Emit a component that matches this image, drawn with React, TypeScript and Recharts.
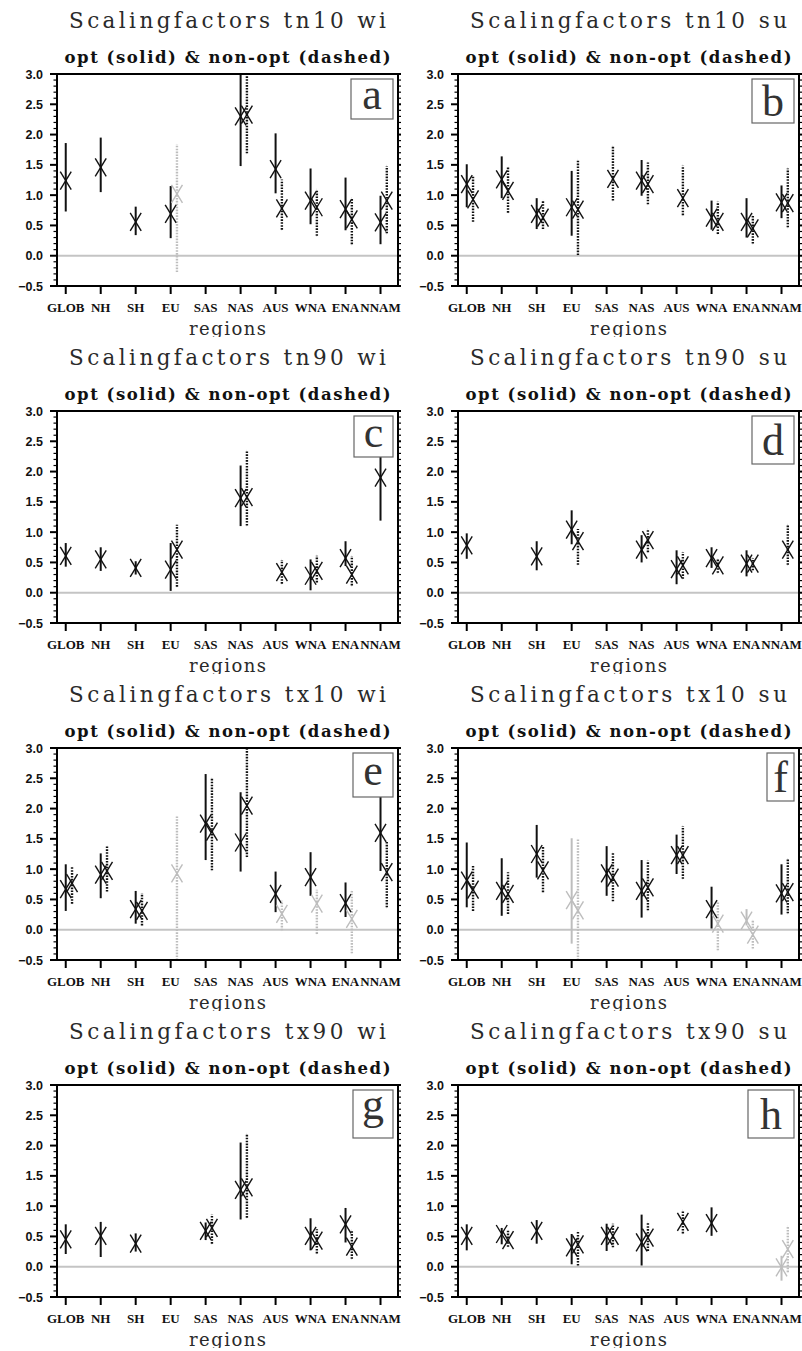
import React from "react";
import {
  ComposedChart,
  Scatter,
  ErrorBar,
  XAxis,
  YAxis,
  ReferenceLine,
} from "recharts";

// [best estimate, lower, upper]; a trailing 1 marks an inconsistent (grey) estimate
// upper ends that run off the top of the frame are read as 3.0
type Est = [number, number, number] | [number, number, number, number] | null;

const REGIONS = ["GLOB", "NH", "SH", "EU", "SAS", "NAS", "AUS", "WNA", "ENA", "NNAM"];
const Y_LABELS = [-0.5, 0, 0.5, 1, 1.5, 2, 2.5, 3];
const X_TICKS = [0, 1, 2, 3, 4, 5, 6, 7, 8, 9];

const TN10_WI_OPT: Est[] = [
  [1.24, 0.73, 1.86], [1.46, 1.05, 1.95], [0.56, 0.34, 0.81], [0.69, 0.29, 1.15], null,
  [2.3, 1.48, 3.0], [1.43, 1.03, 2.02], [0.91, 0.52, 1.44], [0.77, 0.42, 1.29], [0.55, 0.19, 0.99],
];
const TN10_WI_NON: Est[] = [
  null, null, null, [1.02, -0.27, 1.84, 1], null,
  [2.33, 1.69, 3.0], [0.78, 0.43, 1.26], [0.8, 0.33, 1.09], [0.6, 0.19, 0.95], [0.91, 0.37, 1.48],
];

const TN10_SU_OPT: Est[] = [
  [1.18, 0.8, 1.51], [1.26, 0.95, 1.64], [0.69, 0.44, 0.95], [0.8, 0.33, 1.4], null,
  [1.24, 0.99, 1.58], null, [0.63, 0.43, 0.91], [0.56, 0.3, 0.95], [0.88, 0.62, 1.16],
];
const TN10_SU_NON: Est[] = [
  [0.93, 0.56, 1.32], [1.07, 0.71, 1.46], [0.63, 0.44, 0.91], [0.76, 0.01, 1.58], [1.27, 0.91, 1.81],
  [1.18, 0.85, 1.54], [0.95, 0.67, 1.49], [0.56, 0.36, 0.89], [0.45, 0.2, 0.67], [0.87, 0.47, 1.44],
];

const TN90_WI_OPT: Est[] = [
  [0.61, 0.43, 0.82], [0.55, 0.36, 0.75], [0.41, 0.3, 0.52], [0.38, 0.03, 0.82], null,
  [1.56, 1.1, 2.1], null, [0.28, 0.04, 0.55], [0.57, 0.44, 0.85], [1.9, 1.19, 2.25],
];
const TN90_WI_NON: Est[] = [
  null, null, null, [0.71, 0.1, 1.12], null,
  [1.58, 1.11, 2.34], [0.34, 0.15, 0.54], [0.36, 0.17, 0.61], [0.3, 0.12, 0.6], null,
];

const TN90_SU_OPT: Est[] = [
  [0.78, 0.56, 0.98], null, [0.6, 0.37, 0.85], [1.04, 0.8, 1.36], null,
  [0.71, 0.5, 0.95], [0.39, 0.14, 0.7], [0.57, 0.41, 0.75], [0.48, 0.27, 0.7], null,
];
const TN90_SU_NON: Est[] = [
  null, null, null, [0.85, 0.46, 1.05], null,
  [0.87, 0.67, 1.05], [0.45, 0.23, 0.67], [0.45, 0.33, 0.55], [0.48, 0.37, 0.57], [0.71, 0.46, 1.12],
];

const TX10_WI_OPT: Est[] = [
  [0.67, 0.31, 1.08], [0.91, 0.52, 1.26], [0.34, 0.1, 0.64], null, [1.75, 1.15, 2.57],
  [1.44, 0.96, 2.27], [0.59, 0.29, 0.96], [0.87, 0.56, 1.28], [0.44, 0.21, 0.78], [1.6, 0.97, 2.25],
];
const TX10_WI_NON: Est[] = [
  [0.77, 0.43, 1.03], [0.97, 0.63, 1.38], [0.31, 0.07, 0.6], [0.93, -0.5, 1.87, 1], [1.62, 0.98, 2.5],
  [2.05, 1.2, 3.0], [0.26, -0.01, 0.48, 1], [0.43, -0.07, 0.66, 1], [0.18, -0.39, 0.64, 1], [0.95, 0.37, 1.46],
];

const TX10_SU_OPT: Est[] = [
  [0.81, 0.37, 1.44], [0.64, 0.23, 1.18], [1.25, 0.86, 1.73], [0.49, -0.23, 1.51, 1], [0.93, 0.56, 1.38],
  [0.64, 0.2, 1.15], [1.23, 0.92, 1.57], [0.34, 0.02, 0.71], [0.15, 0.07, 0.34, 1], [0.6, 0.25, 1.08],
];
const TX10_SU_NON: Est[] = [
  [0.66, 0.31, 1.05], [0.59, 0.26, 0.95], [0.98, 0.62, 1.37], [0.32, -0.5, 1.51, 1], [0.86, 0.47, 1.27],
  [0.7, 0.32, 1.14], [1.23, 0.84, 1.71], [0.1, -0.34, 0.45, 1], [-0.08, -0.31, 0.15, 1], [0.62, 0.27, 1.16],
];

const TX90_WI_OPT: Est[] = [
  [0.45, 0.21, 0.7], [0.51, 0.16, 0.74], [0.38, 0.25, 0.55], null, [0.59, 0.44, 0.73],
  [1.27, 0.78, 2.05], null, [0.51, 0.27, 0.8], [0.7, 0.4, 0.97], null,
];
const TX90_WI_NON: Est[] = [
  null, null, null, null, [0.64, 0.38, 0.86],
  [1.31, 0.81, 2.19], null, [0.43, 0.22, 0.62], [0.33, 0.13, 0.6], null,
];

const TX90_SU_OPT: Est[] = [
  [0.51, 0.27, 0.7], [0.54, 0.37, 0.64], [0.59, 0.38, 0.77], [0.32, 0.04, 0.54], [0.51, 0.26, 0.71],
  [0.4, 0.02, 0.86], null, [0.72, 0.51, 0.98], null, [-0.01, -0.23, 0.18, 1],
];
const TX90_SU_NON: Est[] = [
  null, [0.44, 0.33, 0.6], null, [0.37, 0.02, 0.59], [0.51, 0.32, 0.71],
  [0.48, 0.26, 0.73], [0.74, 0.55, 0.93], null, null, [0.29, -0.09, 0.67, 1],
];

const PANELS = [
  { letter: "a", title: "Scalingfactors tn10 wi", opt: TN10_WI_OPT, non: TN10_WI_NON },
  { letter: "b", title: "Scalingfactors tn10 su", opt: TN10_SU_OPT, non: TN10_SU_NON },
  { letter: "c", title: "Scalingfactors tn90 wi", opt: TN90_WI_OPT, non: TN90_WI_NON },
  { letter: "d", title: "Scalingfactors tn90 su", opt: TN90_SU_OPT, non: TN90_SU_NON },
  { letter: "e", title: "Scalingfactors tx10 wi", opt: TX10_WI_OPT, non: TX10_WI_NON },
  { letter: "f", title: "Scalingfactors tx10 su", opt: TX10_SU_OPT, non: TX10_SU_NON },
  { letter: "g", title: "Scalingfactors tx90 wi", opt: TX90_WI_OPT, non: TX90_WI_NON },
  { letter: "h", title: "Scalingfactors tx90 su", opt: TX90_SU_OPT, non: TX90_SU_NON },
];

// letter box size [w, h] and baseline offset from box centre
const LETTER_BOX: Record<string, [number, number, number]> = {
  a: [42, 40, 10], b: [42, 44, 15], c: [39, 41, 10], d: [42, 48, 15],
  e: [40, 44, 10], f: [27, 48, 15], g: [40, 48, 5], h: [46, 48, 15],
};

const W = 401;
const H = 337;
const PLOT_L = 57;
const PLOT_R = 398;
const PLOT_T = 74;
const MID_X = (PLOT_L + PLOT_R) / 2;
const INK = "#111";
const GREY = "#bdbdbd";
const DASH = "1.6 1.3";
const NON_SHIFT = 0.18;
const SERIF = "'DejaVu Serif', 'Liberation Serif', serif";

// every 0.1 between -0.5 and 3.0 (minor ticks), labels only on the 0.5 steps
const Y_TICKS = Array.from({ length: 36 }, (_, i) => (i - 5) / 10);

const fmt = (v: number) => (v < 0 ? "\u2212" : "") + Math.abs(v).toFixed(1);
const isMajor = (v: number) => Y_LABELS.some((l) => Math.abs(l - v) < 1e-6);

function toPoints(list: Est[], shift: number, grey: boolean) {
  const out: { x: number; y: number; err: [number, number] }[] = [];
  list.forEach((e, i) => {
    if (!e) return;
    if ((e[3] === 1) !== grey) return;
    out.push({ x: i + shift, y: e[0], err: [e[0] - e[1], e[2] - e[0]] });
  });
  return out;
}

const markShape = (color: string) => (p: any) => {
  if (p.cx == null || p.cy == null) return <g />;
  const { cx, cy } = p;
  return (
    <g stroke={color} strokeWidth={1.4} fill="none">
      <line x1={cx - 5.5} y1={cy - 9} x2={cx + 5.5} y2={cy + 9} />
      <line x1={cx - 5.5} y1={cy + 9} x2={cx + 5.5} y2={cy - 9} />
    </g>
  );
};

const LeftTick = (p: any) => {
  const v = p.payload.value;
  const major = isMajor(v);
  return (
    <g>
      <line x1={p.x} x2={p.x - (major ? 7 : 3.5)} y1={p.y} y2={p.y} stroke="#000" strokeWidth={major ? 2 : 1.2} />
      {major && (
        <text
          x={p.x - 14}
          y={p.y}
          dy="0.36em"
          textAnchor="end"
          fontFamily="'Liberation Sans', Arial, sans-serif"
          fontWeight="bold"
          fontSize={12.5}
          fill="#111"
        >
          {fmt(v)}
        </text>
      )}
    </g>
  );
};

const RightTick = (p: any) => {
  const major = isMajor(p.payload.value);
  return (
    <line x1={p.x} x2={p.x + 3} y1={p.y} y2={p.y} stroke="#000" strokeWidth={major ? 2 : 1.2} />
  );
};

const BottomTick = (p: any) => (
  <text
    x={p.x}
    y={p.y}
    dy="0.36em"
    textAnchor="middle"
    fontFamily="'Liberation Serif', 'Times New Roman', serif"
    fontWeight="bold"
    fontSize={13}
    fill="#111"
  >
    {REGIONS[p.payload.value]}
  </text>
);

function Panel({ panel, col, row }: { panel: (typeof PANELS)[number]; col: number; row: number }) {
  const series = [
    { data: toPoints(panel.opt, 0, true), color: GREY, dash: undefined },
    { data: toPoints(panel.non, NON_SHIFT, true), color: GREY, dash: DASH },
    { data: toPoints(panel.opt, 0, false), color: INK, dash: undefined },
    { data: toPoints(panel.non, NON_SHIFT, false), color: INK, dash: DASH },
  ];
  const [bw, bh, base] = LETTER_BOX[panel.letter];
  const bx = PLOT_R - 5 - bw;
  const by = PLOT_T + 5;

  return (
    <div style={{ position: "absolute", left: col * W, top: row * H, width: W, height: H }}>
      <ComposedChart width={W} height={H} margin={{ top: 73, right: 0, bottom: 0, left: 0 }}>
        <XAxis
          xAxisId="b"
          dataKey="x"
          type="number"
          domain={[-0.25, 9.5]}
          allowDataOverflow
          ticks={X_TICKS}
          interval={0}
          height={51}
          tickSize={8}
          tickMargin={13}
          axisLine={{ stroke: "#000", strokeWidth: 2 }}
          tickLine={{ stroke: "#000", strokeWidth: 2 }}
          tick={BottomTick}
        />
        <XAxis
          xAxisId="t"
          orientation="top"
          type="number"
          domain={[-0.25, 9.5]}
          allowDataOverflow
          ticks={X_TICKS}
          interval={0}
          height={1}
          tickSize={6}
          axisLine={{ stroke: "#000", strokeWidth: 2 }}
          tickLine={{ stroke: "#000", strokeWidth: 2 }}
          tick={false}
        />
        <YAxis
          yAxisId="l"
          dataKey="y"
          type="number"
          domain={[-0.5, 3]}
          allowDataOverflow
          ticks={Y_TICKS}
          interval={0}
          width={PLOT_L}
          tickSize={0}
          tickMargin={0}
          tickLine={false}
          axisLine={{ stroke: "#000", strokeWidth: 2 }}
          tick={LeftTick}
        />
        <YAxis
          yAxisId="r"
          orientation="right"
          type="number"
          domain={[-0.5, 3]}
          allowDataOverflow
          ticks={Y_TICKS}
          interval={0}
          width={W - PLOT_R}
          tickSize={0}
          tickMargin={0}
          tickLine={false}
          axisLine={{ stroke: "#000", strokeWidth: 2 }}
          tick={RightTick}
        />
        <ReferenceLine xAxisId="b" yAxisId="l" y={0} stroke="#c4c4c4" strokeWidth={2} />
        {series.map((s, k) => (
          <Scatter
            key={k}
            data={s.data}
            xAxisId="b"
            yAxisId="l"
            isAnimationActive={false}
            shape={markShape(s.color)}
          >
            <ErrorBar
              dataKey="err"
              direction="y"
              width={0}
              stroke={s.color}
              strokeWidth={s.dash ? 2.4 : 2}
              strokeDasharray={s.dash}
              isAnimationActive={false}
            />
          </Scatter>
        ))}
      </ComposedChart>
      <svg
        width={W}
        height={H}
        style={{ position: "absolute", left: 0, top: 0, pointerEvents: "none" }}
      >
        <text
          x={MID_X}
          y={20}
          textAnchor="middle"
          dominantBaseline="central"
          fontFamily={SERIF}
          fontSize={21.5}
          textLength={317}
          lengthAdjust="spacing"
          fill="#2a2a2a"
        >
          {panel.title}
        </text>
        <text
          x={MID_X}
          y={57}
          textAnchor="middle"
          dominantBaseline="central"
          fontFamily={SERIF}
          fontWeight="bold"
          fontSize={16.5}
          textLength={326}
          lengthAdjust="spacing"
          fill="#111"
        >
          opt (solid) &amp; non-opt (dashed)
        </text>
        <text
          x={MID_X}
          y={328}
          textAnchor="middle"
          dominantBaseline="central"
          fontFamily={SERIF}
          fontSize={18}
          textLength={77}
          lengthAdjust="spacing"
          fill="#2a2a2a"
        >
          regions
        </text>
        <rect x={bx} y={by} width={bw} height={bh} fill="#fff" stroke="#666" strokeWidth={1.2} />
        <text
          x={bx + bw / 2}
          y={by + bh / 2 + base}
          textAnchor="middle"
          fontFamily="'Liberation Serif', 'Times New Roman', serif"
          fontSize={44}
          fill="#333"
        >
          {panel.letter}
        </text>
      </svg>
    </div>
  );
}

export default function App() {
  return (
    <div
      style={{
        position: "absolute",
        left: 0,
        top: 0,
        width: 802,
        height: 1351,
        background: "#fff",
        overflow: "hidden",
      }}
    >
      {PANELS.map((p, i) => (
        <Panel key={p.letter} panel={p} col={i % 2} row={Math.floor(i / 2)} />
      ))}
    </div>
  );
}
